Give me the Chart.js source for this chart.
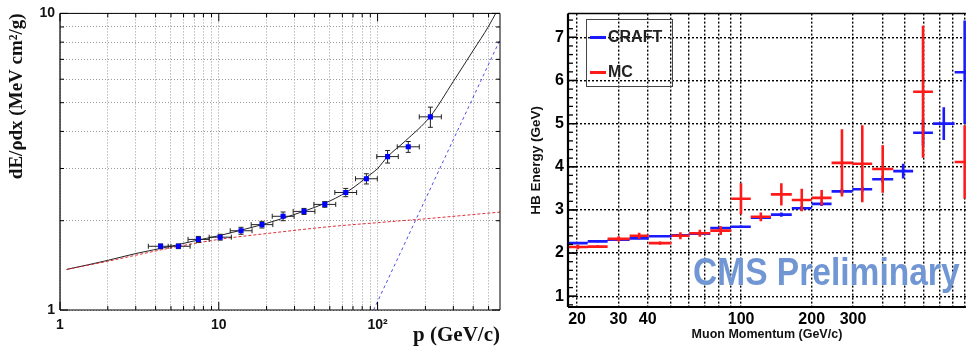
<!DOCTYPE html>
<html>
<head>
<meta charset="utf-8">
<script src="https://cdn.jsdelivr.net/npm/chart.js@4.4.1/dist/chart.umd.min.js"></script>
<style>
  body { margin: 0; background: #fff; }
  #wrap { position: relative; width: 968px; height: 350px; overflow: hidden; }
  #lossChart { position: absolute; left: 0; top: 0; }
  #hbChart { position: absolute; left: 505px; top: 0; }
  .legend { position: absolute; left: 586px; top: 19px; width: 85px; height: 66px; border: 1px solid #444;
            font: bold 16px "Liberation Sans", Arial, sans-serif; color: #222; }
  .legend div { position: absolute; left: 3px; height: 18px; line-height: 18px; white-space: nowrap; }
  .legend span { display: inline-block; width: 16px; height: 3px; vertical-align: middle; margin-right: 2px; }
  .watermark { position: absolute; left: 693px; top: 252px; font: bold 39px/39px "Liberation Sans", Arial, sans-serif;
               color: #7096d4; white-space: nowrap; transform: scaleX(0.86); transform-origin: left top; }
</style>
</head>
<body>
<div id="wrap">
  <canvas id="lossChart" width="505" height="350"></canvas>
  <canvas id="hbChart" width="463" height="350"></canvas>
  <div class="legend">
    <div style="top:8px"><span style="background:#1a1aff"></span>CRAFT</div>
    <div style="top:43px"><span style="background:#ff1a1a"></span>MC</div>
  </div>
  <div class="watermark">CMS Preliminary</div>
</div>
<script>
// ---- left panel: energy loss vs momentum ----
const momentum = [4.3, 5.57, 7.44, 10.2, 13.8, 18.7, 25.4, 34.4, 46.5, 63, 85, 115.6, 156, 215];
const momLow   = [3.6, 4.8, 6.4, 8.7, 11.8, 16.0, 21.7, 29.4, 39.7, 53.8, 72.6, 98.8, 133, 183];
const momHigh  = [5.0, 6.6, 8.7, 12.0, 16.2, 21.9, 29.8, 40.3, 54.5, 73.8, 99.6, 135, 183, 252];
const dedx     = [1.64, 1.64, 1.73, 1.76, 1.85, 1.94, 2.07, 2.15, 2.27, 2.49, 2.77, 3.29, 3.55, 4.48];
const dedxErr  = [0.03, 0.03, 0.04, 0.04, 0.05, 0.05, 0.07, 0.05, 0.05, 0.08, 0.11, 0.16, 0.15, 0.35];

const totalP    = [1.1, 2, 3, 5, 7, 10, 15, 20, 30, 50, 70, 85, 100, 115, 150, 215, 300, 400, 500, 560];
const totalLoss = [1.37, 1.47, 1.55, 1.64, 1.71, 1.78, 1.88, 1.96, 2.1, 2.33, 2.58, 2.8, 3.0, 3.28, 3.72, 4.5, 5.9, 7.5, 9.05, 10.1];
const ionP      = [1.1, 2, 3, 5, 10, 20, 50, 100, 200, 600];
const ionLoss   = [1.37, 1.46, 1.53, 1.62, 1.73, 1.81, 1.91, 1.97, 2.03, 2.14];
const radP      = [94.4, 600];
const radLoss   = [1, 8.3];

const lossXGrid = [1, 2, 3, 4, 5, 6, 7, 8, 9, 10, 20, 30, 40, 50, 60, 70, 80, 90, 100, 200, 300, 400, 500];
const lossXLabelAt = [1, 10, 100];
const lossXLabels  = ['1', '10', '10²'];
const lossYGrid = [1, 2, 3, 4, 5, 6, 7, 8, 9, 10];
const lossYLabelAt = [1, 10];
const lossYLabels  = ['1', '10'];

// ---- right panel: HB energy vs muon momentum ----
const binEdges = [18.3, 22.2, 27, 33.5, 40.4, 50.5, 60.2, 73.9, 90.7, 110, 134, 164.5, 200, 243, 298, 362, 445, 541, 657, 813, 990];
const craftE   = [2.23, 2.27, 2.31, 2.34, 2.39, 2.41, 2.45, 2.58, 2.61, 2.82, 2.89, 3.04, 3.14, 3.43, 3.48, 3.71, 3.90, 4.79, 5.00, 6.19];
const craftErr = [0.02, 0.02, 0.02, 0.02, 0.02, 0.02, 0.03, 0.03, 0.03, 0.04, 0.05, 0.05, 0.05, 0.06, 0.06, 0.08, 0.17, 0.3, 0.38, 1.2];
const mcE      = [2.14, 2.15, 2.33, 2.40, 2.23, 2.40, 2.46, 2.52, 3.26, 2.84, 3.36, 3.23, 3.28, 4.09, 4.07, 3.95, null, 5.74, null, 4.11];
const mcErr    = [0.05, 0.03, 0.06, 0.07, 0.04, 0.08, 0.08, 0.1, 0.36, 0.1, 0.26, 0.26, 0.18, 0.78, 0.89, 0.55, null, 1.53, null, 0.85];

const hbXGrid = [20, 30, 40, 50, 60, 70, 80, 90, 100, 200, 300, 400, 500, 600, 700, 800, 900];
const hbXLabelAt = [20, 30, 40, 100, 200, 300];
const hbYGrid = [1, 2, 3, 4, 5, 6, 7];

// frame + inward tick marks, ROOT style
const frameTicks = {
  id: 'frameTicks',
  afterDatasetsDraw(chart, args, opts) {
    const { ctx, chartArea: a, scales } = chart;
    ctx.save();
    ctx.strokeStyle = '#000';
    ctx.setLineDash([]);
    const line = (x1, y1, x2, y2, w) => {
      ctx.lineWidth = w;
      ctx.beginPath(); ctx.moveTo(x1, y1); ctx.lineTo(x2, y2); ctx.stroke();
    };
    const fw = opts.frame;
    if (fw.left) line(a.left, a.top, a.left, a.bottom, fw.left);
    if (fw.bottom) line(a.left, a.bottom, a.right, a.bottom, fw.bottom);
    if (fw.top) line(a.left, a.top, a.right, a.top, fw.top);
    if (fw.right) line(a.right, a.top, a.right, a.bottom, fw.right);

    const tw = opts.tickWidth || 1;
    if (opts.xTicks) {
      scales.x.ticks.forEach(t => {
        const px = scales.x.getPixelForValue(t.value);
        const len = opts.xMajor.includes(t.value) ? opts.majorLen : opts.minorLen;
        opts.xTicks.forEach(side => {
          if (side === 'bottom') line(px, a.bottom, px, a.bottom - len, tw);
          else line(px, a.top, px, a.top + len, tw);
        });
      });
    }
    const yVals = scales.y.ticks.map(t => t.value).concat(opts.yMinor || []);
    yVals.forEach(v => {
      if (v < scales.y.min || v > scales.y.max) return;
      const py = scales.y.getPixelForValue(v);
      const len = opts.yMajor.includes(v) ? opts.majorLen : opts.minorLen;
      opts.yTicks.forEach(side => {
        if (side === 'left') line(a.left, py, a.left + len, py, tw);
        else line(a.right, py, a.right - len, py, tw);
      });
    });
    ctx.restore();
  }
};

const sansBold = (size) => ({ family: '"Liberation Sans", Arial, sans-serif', size: size, weight: 'bold' });
const serifBold = (size) => ({ family: '"Liberation Serif", "Times New Roman", serif', size: size, weight: 'bold' });

// left panel datasets
const pts = (xs, ys) => xs.map((x, i) => ({ x: x, y: ys[i] }));
const xErrPts = [];
const yErrPts = [];
momentum.forEach((p, i) => {
  xErrPts.push({ x: momLow[i], y: dedx[i] }, { x: momHigh[i], y: dedx[i] }, { x: momHigh[i], y: null });
  yErrPts.push({ x: p, y: dedx[i] - dedxErr[i] }, { x: p, y: dedx[i] + dedxErr[i] }, { x: p, y: null });
});

new Chart(document.getElementById('lossChart'), {
  type: 'line',
  data: {
    datasets: [
      { data: pts(momentum, dedx), showLine: false, pointStyle: 'rect', pointRadius: 3.6,
        pointBackgroundColor: '#0000ff', pointBorderWidth: 0, order: 0 },
      { data: xErrPts, borderColor: '#222', borderWidth: 1, pointStyle: 'line', pointRotation: 90,
        pointRadius: 2.5, pointBorderColor: '#222', pointBorderWidth: 1, order: 1 },
      { data: yErrPts, borderColor: '#222', borderWidth: 1, pointStyle: 'line', pointRotation: 0,
        pointRadius: 2.5, pointBorderColor: '#222', pointBorderWidth: 1, order: 1 },
      { data: pts(ionP, ionLoss), borderColor: '#e0303a', borderWidth: 1, borderDash: [3, 2],
        pointRadius: 0, cubicInterpolationMode: 'monotone', order: 2 },
      { data: pts(totalP, totalLoss), borderColor: '#222', borderWidth: 1,
        pointRadius: 0, cubicInterpolationMode: 'monotone', order: 3 },
      { data: pts(radP, radLoss), borderColor: '#5050e0', borderWidth: 1, borderDash: [3, 3],
        pointRadius: 0, order: 3 }
    ]
  },
  options: {
    responsive: false, animation: false, events: [],
    layout: { padding: { top: 12, right: 3, left: 0, bottom: 0 } },
    plugins: {
      legend: { display: false }, tooltip: { enabled: false },
      frameTicks: { frame: { left: 1.2, bottom: 1.2, top: 1, right: 1 }, xTicks: ['bottom', 'top'], yTicks: ['left', 'right'],
                    xMajor: lossXLabelAt, yMajor: lossYLabelAt, majorLen: 8, minorLen: 4 }
    },
    scales: {
      x: {
        type: 'logarithmic', min: 1, max: 590,
        afterFit: s => { s.height = 40; },
        afterBuildTicks: s => { s.ticks = lossXGrid.map(v => ({ value: v })); },
        grid: { color: '#9a9a9a', lineWidth: 1, drawTicks: false },
        border: { display: false, dash: [1, 2] },
        ticks: { autoSkip: false, maxRotation: 0, padding: 7, color: '#111', font: sansBold(14),
                 callback: v => { const k = lossXLabelAt.indexOf(v); return k >= 0 ? lossXLabels[k] : ''; } },
        title: { display: true, text: 'p (GeV/c)', align: 'end', color: '#111', font: serifBold(21), padding: { top: 0, bottom: 2 } }
      },
      y: {
        type: 'logarithmic', min: 1, max: 10,
        afterFit: s => { s.width = 60; },
        afterBuildTicks: s => { s.ticks = lossYGrid.map(v => ({ value: v })); },
        grid: { color: '#9a9a9a', lineWidth: 1, drawTicks: false },
        border: { display: false, dash: [1, 2] },
        ticks: { autoSkip: false, padding: 5, color: '#111', font: sansBold(14),
                 callback: v => { const k = lossYLabelAt.indexOf(v); return k >= 0 ? lossYLabels[k] : ''; } },
        title: { display: true, text: 'dE/ρdx (MeV cm²/g)', align: 'end', color: '#111', font: serifBold(19), padding: { top: 6, bottom: 0 } }
      }
    }
  },
  plugins: [frameTicks]
});

// right panel datasets: horizontal bin bars + vertical error bars
function binBars(values) {
  const out = [];
  values.forEach((v, i) => {
    if (v === null) return;
    out.push({ x: binEdges[i], y: v }, { x: binEdges[i + 1], y: v }, { x: binEdges[i + 1], y: null });
  });
  return out;
}
function binErrs(values, errs) {
  const out = [];
  values.forEach((v, i) => {
    if (v === null) return;
    const c = Math.sqrt(binEdges[i] * binEdges[i + 1]);
    out.push({ x: c, y: v - errs[i] }, { x: c, y: v + errs[i] }, { x: c, y: null });
  });
  return out;
}

const yMinor = [];
for (let v = 0.8; v < 7.55; v += 0.2) yMinor.push(Math.round(v * 10) / 10);

new Chart(document.getElementById('hbChart'), {
  type: 'line',
  data: {
    datasets: [
      { label: 'MC', data: binBars(mcE), borderColor: '#ff1a1a', borderWidth: 2.6, pointRadius: 0, order: 0 },
      { label: 'MC err', data: binErrs(mcE, mcErr), borderColor: '#ff1a1a', borderWidth: 2.6, pointRadius: 0, order: 0 },
      { label: 'CRAFT', data: binBars(craftE), borderColor: '#1a1aff', borderWidth: 2.6, pointRadius: 0, order: 1 },
      { label: 'CRAFT err', data: binErrs(craftE, craftErr), borderColor: '#1a1aff', borderWidth: 2.6, pointRadius: 0, order: 1 }
    ]
  },
  options: {
    responsive: false, animation: false, events: [],
    layout: { padding: { top: 8, right: 0, left: 0, bottom: 0 } },
    plugins: {
      legend: { display: false }, tooltip: { enabled: false },
      frameTicks: { frame: { left: 2.2, bottom: 2.2, top: 1.5 }, yTicks: ['left'],
                    xMajor: [], yMajor: hbYGrid, yMinor: yMinor, majorLen: 9, minorLen: 5, tickWidth: 1.3 }
    },
    scales: {
      x: {
        type: 'logarithmic', min: 18.3, max: 908,
        afterFit: s => { s.height = 43; },
        afterBuildTicks: s => { s.ticks = hbXGrid.map(v => ({ value: v })); },
        grid: { color: '#000', lineWidth: 1.4, drawTicks: false },
        border: { display: false, dash: [2, 2] },
        ticks: { autoSkip: false, maxRotation: 0, padding: 3, color: '#000', font: sansBold(16),
                 callback: v => hbXLabelAt.includes(v) ? String(v) : '' },
        title: { display: true, text: 'Muon Momentum (GeV/c)', color: '#111', font: sansBold(12.5), padding: { top: 0, bottom: 8 } }
      },
      y: {
        type: 'linear', min: 0.75, max: 7.55,
        afterFit: s => { s.width = 63; },
        afterBuildTicks: s => { s.ticks = hbYGrid.map(v => ({ value: v })); },
        grid: { color: '#000', lineWidth: 1.4, drawTicks: false },
        border: { display: false, dash: [2, 2] },
        ticks: { autoSkip: false, padding: 4, color: '#000', font: sansBold(16) },
        title: { display: true, text: 'HB Energy (GeV)', color: '#111', font: sansBold(13.5), padding: { top: 23, bottom: 0 } }
      }
    }
  },
  plugins: [frameTicks]
});
</script>
</body>
</html>
